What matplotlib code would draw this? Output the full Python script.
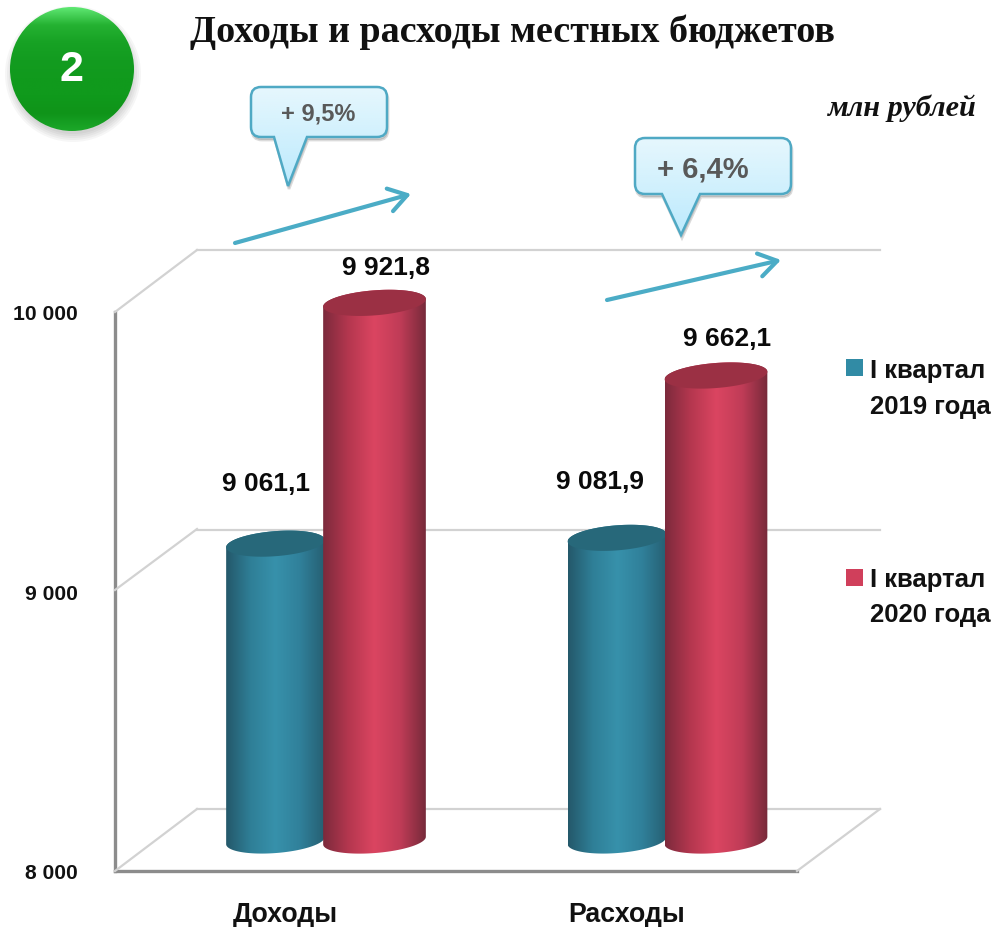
import numpy as np
import matplotlib
matplotlib.use("Agg")
import matplotlib.pyplot as plt
from matplotlib.colors import to_rgb
from matplotlib.patches import Circle, PathPatch, Polygon, Rectangle
from matplotlib.path import Path
from matplotlib.transforms import Affine2D

W, H = 998, 928

# data
categories = ["Доходы", "Расходы"]
series_names = ["I квартал\n2019 года", "I квартал\n2020 года"]
values_2019 = [9061.1, 9081.9]
values_2020 = [9921.8, 9662.1]
value_labels_2019 = ["9 061,1", "9 081,9"]
value_labels_2020 = ["9 921,8", "9 662,1"]
y_ticks = [8000, 9000, 10000]
y_tick_labels = ["8 000", "9 000", "10 000"]
growth_labels = ["+ 9,5%", "+ 6,4%"]

title = "Доходы и расходы местных бюджетов"
unit = "млн рублей"

# colours
blue_stops = ["#24586a", "#2f7f97", "#3791ab", "#30809a", "#265f72"]
red_stops = ["#7c2a3c", "#b5374f", "#db4561", "#c03c57", "#772a3a"]
blue_top = "#27687a"
red_top = "#9b3044"
blue_key = "#318ba5"
red_key = "#d03f5b"
wall = "#d2d2d2"
frame = "#8c8c8c"
arrow_col = "#4bacc6"

plt.rcParams["font.family"] = ["Liberation Sans", "DejaVu Sans"]

fig = plt.figure(figsize=(W / 100, H / 100), dpi=100)


def pixel_axes(left, right, top, bottom):
    return fig.add_axes([left / W, 1 - bottom / H, (right - left) / W, (bottom - top) / H])


def gradient(stops):
    rgb = np.array([to_rgb(c) for c in stops])
    pos = np.linspace(0, 1, len(stops))
    t = np.linspace(0, 1, 256)
    return np.stack([np.interp(t, pos, rgb[:, i]) for i in range(3)], axis=1)[None, :, :]


# back wall of the 3d box
back = pixel_axes(197, 880, 251, 810)
back.set_xlim(-0.5, 1.5)
back.set_ylim(8000, 10000)
back.set_yticks(y_ticks)
back.set_xticks([])
back.tick_params(left=False, labelleft=False)
back.grid(axis="y", color=wall, lw=1.6)
for s in back.spines.values():
    s.set_visible(False)
back.patch.set_visible(False)
for g in back.get_ygridlines():
    g.set_clip_on(False)

# front plane holds the axis lines and labels
front = pixel_axes(115, 797, 313, 872)
front.set_xlim(-0.5, 1.5)
front.set_ylim(8000, 10000)
front.patch.set_visible(False)
front.spines["top"].set_visible(False)
front.spines["right"].set_visible(False)
front.spines["left"].set_color(frame)
front.spines["bottom"].set_color(frame)
front.spines["left"].set_linewidth(2.4)
front.spines["bottom"].set_linewidth(2.4)
front.set_yticks(y_ticks)
front.set_yticklabels(y_tick_labels, fontsize=15.2, fontweight="bold", color="#111111")
front.set_xticks(range(len(categories)))
front.set_xticklabels(categories, fontsize=19.3, fontweight="bold", color="#111111")
front.tick_params(axis="y", length=0, pad=26.5)
front.tick_params(axis="x", length=0, pad=21.5)

# bars stand half way into the box, the y limits leave room for the round ends
bars = pixel_axes(154.25, 837.25, 254, 869.5)
bars.set_xlim(-0.5, 1.5)
bars.set_ylim(7900, 10100)
bars.axis("off")

px_x = 683 / 2.0
px_y = 559.5 / 2000
half_h = 12.5
tilt = np.radians(4.5)


def ellipse_points(cx, cy, half_w, t):
    dx = half_w * np.cos(t) * np.cos(tilt) - half_h * np.sin(t) * np.sin(tilt)
    dy = half_w * np.cos(t) * np.sin(tilt) + half_h * np.sin(t) * np.cos(tilt)
    return np.column_stack([cx + dx / px_x, cy + dy / px_y])


def cylinder(cx, value, half_w, stops, top_col, z):
    lower = ellipse_points(cx, 8000, half_w, np.linspace(np.pi, 2 * np.pi, 60))
    upper = ellipse_points(cx, value, half_w, np.linspace(0, np.pi, 60))
    body = Polygon(np.vstack([lower, upper]), closed=True, fc="none", ec="none", zorder=z)
    bars.add_patch(body)
    im = bars.imshow(gradient(stops), aspect="auto", zorder=z, interpolation="bilinear",
                     extent=[cx - half_w / px_x, cx + half_w / px_x, 7900, value + 100])
    im.set_clip_path(body)
    cap = ellipse_points(cx, value, half_w, np.linspace(0, 2 * np.pi, 120))
    bars.add_patch(Polygon(cap, closed=True, fc=top_col, ec="none", zorder=z + 0.5))


blue_off = -49.5 / px_x
red_off = 49.5 / px_x
label_shift_2019 = [(-10, 61), (-17, 57)]
label_shift_2020 = [(11, 36), (11, 38)]
for i in range(len(categories)):
    cylinder(i + blue_off, values_2019[i], 49.5, blue_stops, blue_top, 2 + i)
    cylinder(i + red_off, values_2020[i], 51.5, red_stops, red_top, 2.6 + i)
    bars.annotate(value_labels_2019[i], (i + blue_off, values_2019[i]),
                  xytext=(label_shift_2019[i][0] * 0.72, label_shift_2019[i][1] * 0.72),
                  textcoords="offset points", ha="center", va="center",
                  fontsize=19, fontweight="bold", color="#0a0a0a", zorder=9)
    bars.annotate(value_labels_2020[i], (i + red_off, values_2020[i]),
                  xytext=(label_shift_2020[i][0] * 0.72, label_shift_2020[i][1] * 0.72),
                  textcoords="offset points", ha="center", va="center",
                  fontsize=19, fontweight="bold", color="#0a0a0a", zorder=9)
bars.set_xlim(-0.5, 1.5)
bars.set_ylim(7900, 10100)

# decoration in pixel coordinates
over = fig.add_axes([0, 0, 1, 1])
over.set_xlim(0, W)
over.set_ylim(H, 0)
over.axis("off")
over.patch.set_visible(False)

for a, b in [((115, 313), (197, 251)), ((115, 591), (197, 530)), ((115, 872), (197, 810)), ((797, 872), (880, 810))]:
    over.plot([a[0], b[0]], [a[1], b[1]], color=wall, lw=1.6, zorder=1)

over.text(513, 32, title, fontsize=27.4, fontweight="bold", family="Liberation Serif",
          ha="center", va="center", color="#111111")
over.text(901, 108, unit, fontsize=21.8, fontweight="bold", style="italic",
          family="Liberation Serif", ha="center", va="center", color="#111111")

# badge with a soft shadow
for grow in [8, 6, 4, 2, 0]:
    over.add_patch(Circle((73, 75), 60 + grow, fc="#000000", alpha=0.035, ec="none", zorder=2))
badge = Circle((72, 70), 62, fc="none", ec="none", zorder=3)
over.add_patch(badge)
im = over.imshow(gradient(["#5fe873", "#25b232", "#17a224", "#139c20", "#119a1d", "#109a1c", "#0f9419", "#1ca82a"]).transpose(1, 0, 2),
                 extent=[10, 134, 132, 8], aspect="auto", zorder=3, interpolation="bilinear")
im.set_clip_path(badge)
over.text(72, 70, "2", color="white", fontsize=31, fontweight="bold", ha="center", va="center", zorder=4)


def callout_path(x0, x1, y0, y1, base0, base1, tip):
    r = 10
    verts = [(x0 + r, y0), (x1 - r, y0), (x1, y0), (x1, y0 + r), (x1, y1 - r), (x1, y1), (x1 - r, y1),
             (base1, y1), tip, (base0, y1), (x0 + r, y1), (x0, y1), (x0, y1 - r), (x0, y0 + r), (x0, y0),
             (x0 + r, y0), (x0 + r, y0)]
    codes = [Path.MOVETO, Path.LINETO, Path.CURVE3, Path.CURVE3, Path.LINETO, Path.CURVE3, Path.CURVE3,
             Path.LINETO, Path.LINETO, Path.LINETO, Path.LINETO, Path.CURVE3, Path.CURVE3, Path.LINETO,
             Path.CURVE3, Path.CURVE3, Path.CLOSEPOLY]
    return Path(verts, codes)


def callout(x0, x1, y0, y1, base0, base1, tip, text, tx, ty, size):
    outline = callout_path(x0, x1, y0, y1, base0, base1, tip)
    over.add_patch(PathPatch(outline.transformed(Affine2D().translate(1, 3)),
                             fc="#000000", ec="#000000", lw=2, alpha=0.14, zorder=4))
    clip = PathPatch(outline, fc="none", ec="none", zorder=5)
    over.add_patch(clip)
    im = over.imshow(gradient(["#e6f7fd", "#bceafd"]).transpose(1, 0, 2), aspect="auto", zorder=5,
                     extent=[x0, x1, tip[1], y0], interpolation="bilinear")
    im.set_clip_path(clip)
    over.add_patch(PathPatch(outline, fc="none", ec="#4fa9c4", lw=1.8, zorder=5.5))
    over.text(tx, ty, text, fontsize=size, fontweight="bold", color="#595959", ha="center", va="center", zorder=6)


callout(251, 387, 88, 138, 274, 307, (288, 187), growth_labels[0], 318, 114, 17)
callout(635, 791, 139, 195, 662, 700, (681, 236), growth_labels[1], 703, 169, 21)

for a, b in [((235, 244), (411, 195)), ((607, 301), (781, 261))]:
    over.annotate("", xy=b, xytext=a, zorder=7,
                  arrowprops=dict(arrowstyle="->,head_length=0.65,head_width=0.42", color=arrow_col, lw=3,
                                  mutation_scale=20, shrinkA=0, shrinkB=0))

# legend
for y, col, name, ty in [(360, blue_key, series_names[0], 389), (570, red_key, series_names[1], 597.5)]:
    over.add_patch(Rectangle((846, y), 17, 17, fc=col, ec="none"))
    over.text(870, ty, name, fontsize=18.5, fontweight="bold", color="#111111",
              ha="left", va="center", linespacing=1.6)

over.set_xlim(0, W)
over.set_ylim(H, 0)

fig.savefig("out.png", dpi=100)
